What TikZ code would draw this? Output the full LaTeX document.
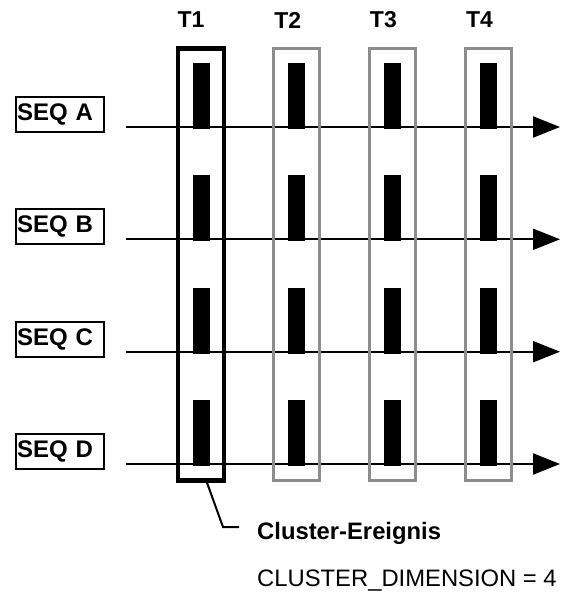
\documentclass[tikz,border=0pt]{standalone}
\usepackage{fontspec}
\setmainfont{Liberation Sans}
\usetikzlibrary{positioning,fit,arrows.meta}
\tikzset{
x=1pt,
y=-1pt,
>={Triangle[length=27pt,width=21pt]},
node distance=46.33pt and 78.7pt,
}

\begin{document}
\begin{tikzpicture}
    [evt/.style={rectangle, fill=black, inner sep=0pt, outer sep=0pt,
        minimum width=17pt, minimum height=66pt},
    slot/.style={rectangle, draw=black!45, line width=3pt,
        inner xsep=14.5pt, inner ysep=14.5pt},
    chosen/.style={slot, draw=black, line width=4.5pt},
    seq/.style={rectangle, draw, line width=2pt, text width=86pt, align=left,
        inner xsep=1pt, minimum height=35pt,
        font=\bfseries\fontsize{24}{28}\selectfont},
    tlabel/.style={font=\bfseries\fontsize{23}{27}\selectfont},
    timeline/.style={->, line width=2pt},
    note/.style={anchor=west, inner sep=2pt, font=\fontsize{23.8}{28}\selectfont}
    ]

    \useasboundingbox (0,0) rectangle (560,596);

    % time axes
    \coordinate (la) at (126,127);
    \coordinate (ra) at (560,127);
    \coordinate (lb) at (126,239.3);
    \coordinate (rb) at (560,239.3);
    \coordinate (lc) at (126,351.7);
    \coordinate (rc) at (560,351.7);
    \coordinate (ld) at (126,464);
    \coordinate (rd) at (560,464);

    \draw [timeline] (la) -- (ra);
    \draw [timeline] (lb) -- (rb);
    \draw [timeline] (lc) -- (rc);
    \draw [timeline] (ld) -- (rd);

    % sequence names
    \node [seq] (sa) at (60,114.5) {SEQ A};
    \node [seq] (sb) at (60,226.8) {SEQ B};
    \node [seq] (sc) at (60,339.2) {SEQ C};
    \node [seq] (sd) at (60,451.5) {SEQ D};

    % events
    \node [evt] (a1) at (201,96) {};
    \node [evt] (a2) [right=of a1] {};
    \node [evt] (a3) [right=of a2] {};
    \node [evt] (a4) [right=of a3] {};

    \node [evt] (b1) [below=of a1] {};
    \node [evt] (b2) [right=of b1] {};
    \node [evt] (b3) [right=of b2] {};
    \node [evt] (b4) [right=of b3] {};

    \node [evt] (c1) [below=of b1] {};
    \node [evt] (c2) [right=of c1] {};
    \node [evt] (c3) [right=of c2] {};
    \node [evt] (c4) [right=of c3] {};

    \node [evt] (d1) [below=of c1] {};
    \node [evt] (d2) [right=of d1] {};
    \node [evt] (d3) [right=of d2] {};
    \node [evt] (d4) [right=of d3] {};

    % time slots
    \node [chosen, fit=(a1)(d1)] (k1) {};
    \node [slot, fit=(a2)(d2)] (k2) {};
    \node [slot, fit=(a3)(d3)] (k3) {};
    \node [slot, fit=(a4)(d4)] (k4) {};

    \node [tlabel] (t1) at (191,20) {T1};
    \node [tlabel] (t2) at (287.7,20) {T2};
    \node [tlabel] (t3) at (383.4,20) {T3};
    \node [tlabel] (t4) at (479.6,20) {T4};

    % callout
    \node [note, font=\bfseries\fontsize{23.8}{28}\selectfont] (ce) at (255,533) {Cluster-Ereignis};
    \node [note] (cd) at (255,581) {CLUSTER\_DIMENSION = 4};

    \draw [line width=2pt] ([xshift=6pt]k1.south) -- ([xshift=-32pt,yshift=6pt]ce.west) -- ([xshift=-16pt,yshift=6pt]ce.west);

\end{tikzpicture}
\end{document}
